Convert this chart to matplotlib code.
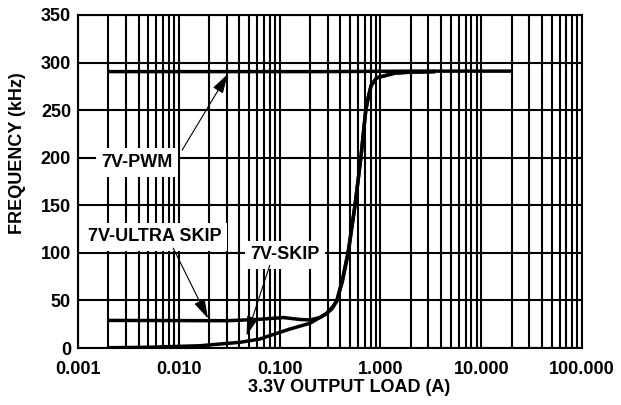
import numpy as np
import matplotlib; matplotlib.use("Agg")
import matplotlib.pyplot as plt

plt.rcParams["font.family"] = ["Liberation Sans", "DejaVu Sans"]
plt.rcParams["font.weight"] = "bold"
plt.rcParams["axes.labelweight"] = "bold"

# --- data ---
pwm_x = [0.002, 0.03, 0.3, 2.0, 20.0]
pwm_y = [290.5, 290.5, 290.5, 291, 291]

skip_x = [0.002, 0.005, 0.0162, 0.0405, 0.064, 0.08, 0.127, 0.20, 0.29, 0.33,
          0.368, 0.42, 0.48, 0.56, 0.64, 0.716, 0.76, 0.81, 0.92, 1.4, 2.04, 3.5]
skip_y = [0.3, 0.8, 2.4, 6, 9.5, 13, 20, 26, 36, 41,
          49, 70, 100, 150, 200, 250, 264, 276, 284, 289, 290, 290.5]

ultra_x = [0.002, 0.03, 0.06, 0.109, 0.16, 0.20, 0.25, 0.29, 0.34, 0.37, 0.42,
           0.48, 0.56, 0.64, 0.716, 0.76, 0.81, 0.92, 1.4, 2.04, 3.5]
ultra_y = [29, 28.7, 30, 32, 30, 29.5, 32, 36, 44, 50, 72,
           102, 150, 200, 250, 264, 276, 284, 289, 290, 290.5]

labels = ["7V-PWM", "7V-ULTRA SKIP", "7V-SKIP"]
label_xy = [(0.00385, 195), (0.0058, 117), (0.113, 98)]
arrow_tail = [(0.0108, 208), (0.0088, 105), (0.080, 87)]
arrow_head = [(0.0307, 288), (0.0195, 31), (0.047, 13)]

FS = 13
fig = plt.figure(figsize=(6.21, 4.05), dpi=100)
ax = fig.add_axes([0.1256, 0.1407, 0.8116, 0.8223])
ax.set_xscale("log")
ax.set_xlim(0.001, 100)
ax.set_ylim(0, 350)
ax.set_yticks(np.arange(0, 351, 50))
ax.set_xticks([0.001, 0.01, 0.1, 1, 10, 100])
ax.set_xticklabels(["0.001", "0.010", "0.100", "1.000", "10.000", "100.000"])
ax.tick_params(which="both", length=0, labelsize=FS)
ax.tick_params(axis="x", pad=9)
ax.tick_params(axis="y", pad=5)
ax.grid(True, which="both", color="black", lw=1.5, zorder=1)
ax.set_axisbelow(True)
for s in ax.spines.values():
    s.set_linewidth(1.5)

kw = dict(color="black", lw=2.5, solid_capstyle="butt", solid_joinstyle="round", zorder=3)
ax.plot(pwm_x, pwm_y, **kw)
ax.plot(skip_x, skip_y, **kw)
ax.plot(ultra_x, ultra_y, **kw)

for t, p in zip(labels, label_xy):
    ax.text(p[0], p[1], t, fontsize=FS, ha="center", va="center", zorder=5,
            bbox=dict(fc="white", ec="none", pad=4))
for a, b in zip(arrow_tail, arrow_head):
    ax.annotate("", xy=b, xytext=a, zorder=6,
                arrowprops=dict(arrowstyle="-|>,head_length=0.75,head_width=0.22",
                                color="black", lw=0.8,
                                mutation_scale=16, shrinkA=0, shrinkB=0))

ax.set_xlabel("3.3V OUTPUT LOAD (A)", fontsize=FS, fontweight="bold")
ax.xaxis.set_label_coords(0.538, -0.093)
ax.set_ylabel("FREQUENCY (kHz)", fontsize=FS, fontweight="bold")
ax.yaxis.set_label_coords(-0.103, 0.585)

fig.savefig("out.png", dpi=100, facecolor="white")
